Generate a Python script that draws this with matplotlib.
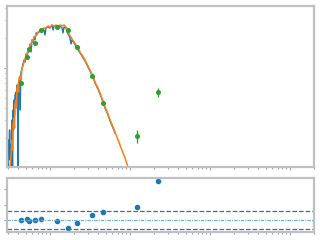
import matplotlib
matplotlib.use("Agg")
import matplotlib.pyplot as plt

# model spectrum 1 (blue), wavelength in micron and flux in arbitrary units
lam_blue = [0.290, 0.2985, 0.303, 0.307, 0.312, 0.316, 0.321, 0.326, 0.330, 0.335, 0.340,
            0.345, 0.350, 0.355, 0.360, 0.365, 0.376, 0.381, 0.387, 0.392, 0.398,
            0.404, 0.410, 0.422, 0.425, 0.429, 0.434, 0.447, 0.460, 0.473, 0.487,
            0.501, 0.516, 0.531, 0.546, 0.562, 0.579, 0.596, 0.613, 0.631, 0.649,
            0.668, 0.708, 0.750, 0.794, 0.841, 0.866, 0.891, 0.944, 1.000, 1.059,
            1.090, 1.122, 1.189, 1.259, 1.334, 1.413, 1.454, 1.496, 1.585, 1.631,
            1.679, 1.778, 1.830, 1.884, 1.995, 2.114, 2.239, 2.371, 2.512, 2.738,
            2.985, 3.162, 3.448, 3.652, 3.981, 4.217, 4.597, 4.870, 5.309, 5.623,
            6.131, 6.494]
flux_blue = [0.120, 0.102, 0.190, 0.135, 0.240, 0.120, 0.170, 0.102, 0.214, 0.302, 0.102,
             0.380, 0.240, 0.479, 0.339, 0.537, 0.575, 0.427, 0.676, 0.537, 0.102,
             0.724, 0.759, 0.603, 0.380, 0.794, 0.912, 1.000, 1.097, 1.202, 1.148,
             1.380, 1.259, 1.514, 1.445, 1.698, 1.445, 1.906, 1.820, 2.042, 1.906,
             2.239, 2.239, 2.344, 2.455, 2.399, 2.138, 2.512, 2.570, 2.512, 2.692,
             2.399, 2.630, 2.630, 2.570, 2.630, 2.512, 2.239, 2.570, 2.512, 2.291,
             2.188, 1.995, 1.738, 1.906, 1.778, 1.660, 1.514, 1.413, 1.318, 1.175,
             1.023, 0.933, 0.813, 0.708, 0.617, 0.550, 0.457, 0.398, 0.339, 0.295,
             0.251, 0.224]

# model spectrum 2 (orange)
lam_orange = [0.316, 0.326, 0.335, 0.340, 0.345, 0.355, 0.360, 0.365, 0.376, 0.381,
              0.387, 0.398, 0.404, 0.410, 0.422, 0.434, 0.447, 0.460, 0.473, 0.487,
              0.501, 0.516, 0.531, 0.546, 0.562, 0.579, 0.596, 0.613, 0.631, 0.649,
              0.668, 0.688, 0.708, 0.750, 0.772, 0.794, 0.841, 0.891, 0.944, 1.000,
              1.059, 1.122, 1.189, 1.259, 1.334, 1.413, 1.496, 1.585, 1.631, 1.679,
              1.778, 1.884, 1.995, 2.114, 2.239, 2.371, 2.512, 2.738, 2.985, 3.162,
              3.448, 3.652, 3.981, 4.217, 4.597, 4.870, 5.309, 5.623, 6.131, 6.494,
              7.080, 7.499, 8.175, 8.660, 9.441, 11.55]
flux_orange = [0.102, 0.135, 0.190, 0.151, 0.269, 0.316, 0.251, 0.427, 0.479, 0.398,
               0.631, 0.692, 0.575, 0.794, 0.832, 0.759, 1.000, 1.047, 1.148, 1.202,
               1.349, 1.380, 1.514, 1.514, 1.738, 1.698, 1.906, 1.862, 2.042, 2.042,
               2.188, 2.138, 2.291, 2.344, 2.455, 2.399, 2.512, 2.512, 2.630, 2.570,
               2.692, 2.630, 2.692, 2.630, 2.692, 2.630, 2.692, 2.570, 2.455, 2.291,
               2.089, 1.950, 1.820, 1.698, 1.585, 1.445, 1.349, 1.202, 1.047, 0.955,
               0.832, 0.724, 0.631, 0.562, 0.468, 0.407, 0.347, 0.302, 0.257, 0.229,
               0.191, 0.170, 0.141, 0.126, 0.102, 0.0676]

# photometry
lam_phot = [0.43, 0.52, 0.54, 0.64, 0.78, 1.23, 1.66, 2.19, 3.38, 4.64, 12.3, 22.6]
flux_phot = [0.703, 1.28, 1.54, 1.77, 2.40, 2.59, 2.38, 1.63, 0.826, 0.443, 0.209, 0.571]
err_phot = [0.02, 0.03, 0.03, 0.04, 0.05, 0.05, 0.05, 0.03, 0.02, 0.01, 0.032, 0.06]

# residuals in sigma
resid = [-0.1, 0.2, -0.2, -0.1, 0.2, -0.4, -2.5, -1.1, 1.5, 2.5, 4.1, 12.5]
sig_lim = 3

spine_col = "#c0c0c0"

fig = plt.figure(figsize=(3.2, 2.4), dpi=100)
ax1 = fig.add_axes([0.0234, 0.3054, 0.958, 0.671])
ax2 = fig.add_axes([0.0234, 0.0333, 0.958, 0.224], sharex=ax1)

ax1.plot(lam_blue, flux_blue, color="C0", lw=1.0)
ax1.plot(lam_orange, flux_orange, color="C1", lw=1.1)
ax1.errorbar(lam_phot, flux_phot, yerr=err_phot, fmt="o", color="C2",
             ms=2.6, elinewidth=0.9, capsize=0)
ax1.set_xscale("log")
ax1.set_yscale("log")
ax1.set_xlim(0.294, 2000)
ax1.set_ylim(0.103, 4.2)

ax2.plot(lam_phot, resid, "o", color="C0", ms=3)
ax2.axhline(0, color="#6aaed6", ls=(0, (3, 1, 1, 1)), lw=0.8)
ax2.axhline(sig_lim, color="#3a6f9c", ls="--", lw=0.9)
ax2.axhline(-sig_lim, color="#3a6f9c", ls="--", lw=0.9)
ax2.set_ylim(-3.9, 13.5)
ax2.set_yticks([0, 5, 10])

for ax in (ax1, ax2):
    for s in ax.spines.values():
        s.set_color(spine_col)
        s.set_linewidth(1.6)
    ax.tick_params(which="both", colors="#a0a0a0", labelleft=False,
                   labelbottom=False, width=0.8)
    ax.tick_params(which="major", length=2.5)
    ax.tick_params(which="minor", length=1.5)

fig.savefig("out.png", dpi=100)
